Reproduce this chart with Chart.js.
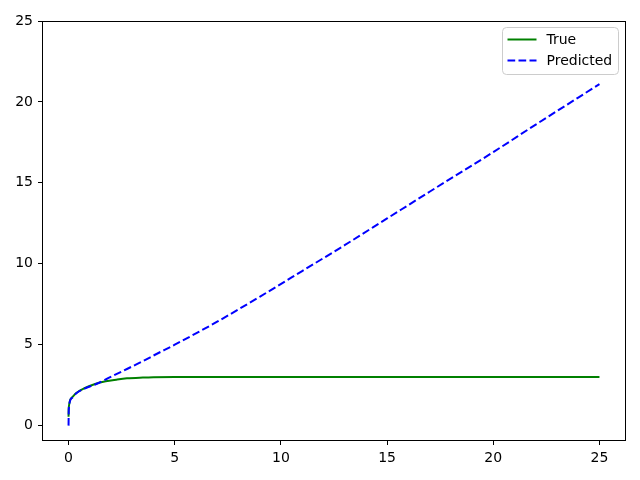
<!DOCTYPE html>
<html>
<head>
<meta charset="utf-8">
<script src="https://cdn.jsdelivr.net/npm/chart.js@4"></script>
<style>
  body { margin: 0; background: #fff; }
  #wrap { width: 640px; height: 480px; }
</style>
</head>
<body>
<div id="wrap"><canvas id="chart" width="640" height="480"></canvas></div>
<script>
// values
const xs = [0, 0.01, 0.15, 0.35, 0.75, 1.25, 1.75, 2.25, 2.75, 3.5, 4, 5, 6, 7, 9, 11, 13, 15, 17, 20, 22, 25];
const trueVals = [0.55, 1.12, 1.72, 2.0, 2.31, 2.57, 2.74, 2.84, 2.92, 2.97, 2.99, 3.0, 3.0, 3.0, 3.0, 3.0, 3.0, 3.0, 3.0, 3.0, 3.0, 3.0];
const predVals = [0, 1.0, 1.7, 1.98, 2.29, 2.54, 2.85, 3.18, 3.5, 3.98, 4.33, 5.0, 5.7, 6.42, 7.96, 9.55, 11.15, 12.8, 14.45, 16.9, 18.6, 21.1];
const xTicks = [0, 5, 10, 15, 20, 25];
const yTicks = [0, 5, 10, 15, 20, 25];
const seriesNames = ["True", "Predicted"];

const font = '"DejaVu Sans", sans-serif';
Chart.defaults.font.family = font;
Chart.defaults.font.size = 14;
Chart.defaults.color = "#000";

function pts(vals) {
    return xs.map((x, i) => ({ x: x, y: vals[i] }));
}

// box round the plot area, like matplotlib spines
const frame = {
    id: "frame",
    afterDatasetsDraw(chart) {
        const a = chart.chartArea, ctx = chart.ctx;
        ctx.save();
        ctx.strokeStyle = "#000";
        ctx.lineWidth = 1;
        ctx.strokeRect(Math.round(a.left) + 0.5, Math.round(a.top) + 0.5,
            Math.round(a.right - a.left) - 1, Math.round(a.bottom - a.top) - 1);
        ctx.restore();
    }
};

// legend inside the upper right corner
const boxLegend = {
    id: "boxLegend",
    afterDraw(chart) {
        const a = chart.chartArea, ctx = chart.ctx;
        const w = 116, h = 47;
        const left = a.right - 123.5, top = a.top + 6.5;
        ctx.save();
        ctx.beginPath();
        ctx.roundRect(left, top, w, h, 4);
        ctx.fillStyle = "rgba(255,255,255,0.8)";
        ctx.fill();
        ctx.strokeStyle = "#cccccc";
        ctx.lineWidth = 1;
        ctx.stroke();
        chart.data.datasets.slice().reverse().forEach((ds, i) => {
            const y = top + 12 + i * 21;
            ctx.beginPath();
            ctx.setLineDash(ds.borderDash || []);
            ctx.strokeStyle = ds.borderColor;
            ctx.lineWidth = 2;
            ctx.moveTo(left + 5, y);
            ctx.lineTo(left + 34, y);
            ctx.stroke();
            ctx.setLineDash([]);
            ctx.fillStyle = "#000";
            ctx.font = "14px " + font;
            ctx.textBaseline = "middle";
            ctx.fillText(ds.label, left + 44, y + 1);
        });
        ctx.restore();
    }
};

new Chart(document.getElementById("chart"), {
    type: "line",
    data: {
        datasets: [
            {
                label: seriesNames[1],
                data: pts(predVals),
                borderColor: "#0000ff",
                borderWidth: 2,
                borderDash: [7.7, 3.3],
                pointRadius: 0,
                cubicInterpolationMode: "monotone",
                fill: false
            },
            {
                label: seriesNames[0],
                data: pts(trueVals),
                borderColor: "#008000",
                borderWidth: 2,
                pointRadius: 0,
                cubicInterpolationMode: "monotone",
                fill: false
            }
        ]
    },
    options: {
        responsive: false,
        animation: false,
        layout: { padding: { top: 21, right: 14, left: 0, bottom: 0 } },
        plugins: { legend: { display: false }, tooltip: { enabled: false } },
        scales: {
            x: {
                type: "linear",
                min: -1.25,
                max: 26.25,
                afterBuildTicks: s => { s.ticks = xTicks.map(v => ({ value: v })); },
                afterFit: s => { s.height = 39; },
                grid: { drawOnChartArea: false, tickLength: 4, color: "#000" },
                border: { display: false },
                ticks: { padding: 5, maxRotation: 0 }
            },
            y: {
                min: -0.95,
                max: 25,
                afterBuildTicks: s => { s.ticks = yTicks.map(v => ({ value: v })); },
                afterFit: s => { s.width = 42; },
                grid: { drawOnChartArea: false, tickLength: 4, color: "#000" },
                border: { display: false },
                ticks: { padding: 5 }
            }
        }
    },
    plugins: [frame, boxLegend]
});
</script>
</body>
</html>
